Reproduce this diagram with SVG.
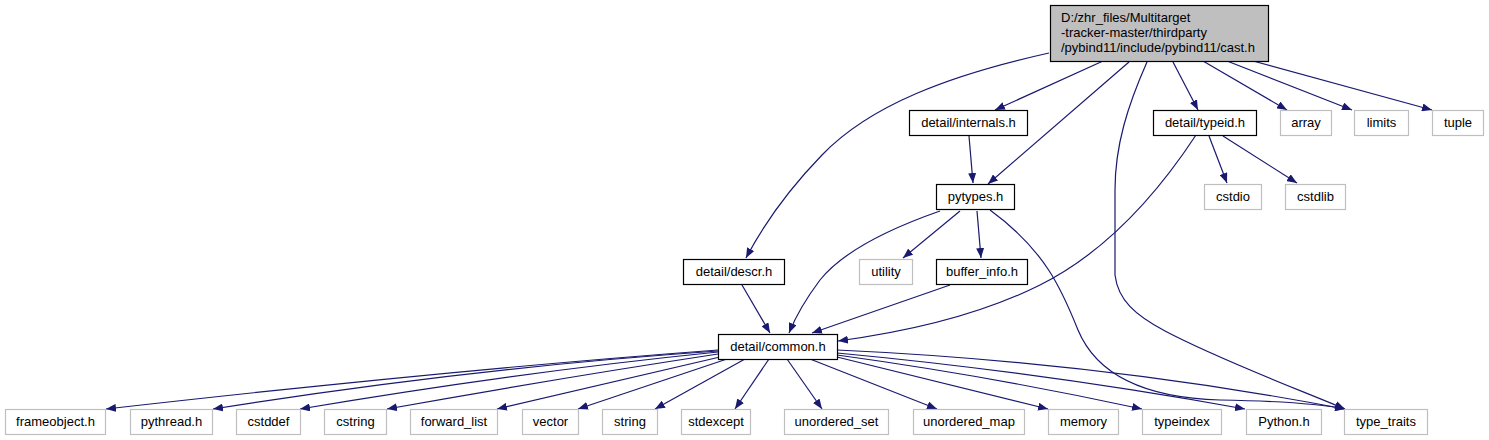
<svg xmlns="http://www.w3.org/2000/svg" width="1489" height="440" viewBox="0 0 1489 440">
<style>
  text { font-family: "Liberation Sans", Arial, sans-serif; font-size: 13px; fill: #000; }
  .c { text-anchor: middle; }
  .n { fill: #fff; stroke: #000; stroke-width: 1.2; }
  .g { fill: #fff; stroke: #bfbfbf; stroke-width: 1.2; }
  .root { fill: #bfbfbf; stroke: #000; stroke-width: 1.2; }
  .e { fill: none; stroke: #191970; stroke-width: 1.2; marker-end: url(#a); }
</style>
<defs>
  <marker id="a" markerWidth="11" markerHeight="8" refX="10" refY="4" orient="auto" markerUnits="userSpaceOnUse">
    <path d="M0,0 L10,4 L0,8 z" fill="#191970"/>
  </marker>
</defs>
<rect width="1489" height="440" fill="#fff"/>
<g id="edges">
  <path class="e" d="M1049,53 C 950,75 870,105 822,155 C 790,188 765,222 746,258"/>
  <path class="e" d="M1103,61 L995,110"/>
  <path class="e" d="M1129,62 L988,184"/>
  <path class="e" d="M1147,62 C 1128,105 1115,145 1115,190 L1115,275 C 1118,300 1135,315 1165,331 C 1220,360 1300,390 1345,409"/>
  <path class="e" d="M1173,62 L1198,110"/>
  <path class="e" d="M1203,61 L1287,110"/>
  <path class="e" d="M1227,61 L1352,110"/>
  <path class="e" d="M1253,61 L1432,110"/>
  <path class="e" d="M969,136 L973,183"/>
  <path class="e" d="M1209,136 L1227,183"/>
  <path class="e" d="M1223,136 L1297,183"/>
  <path class="e" d="M1196,135 C 1150,205 1100,255 1040,285 C 990,310 920,330 838,341"/>
  <path class="e" d="M940,211 C 880,232 840,255 820,280 C 805,300 795,318 789,333"/>
  <path class="e" d="M960,211 L903,258"/>
  <path class="e" d="M977,211 L981,258"/>
  <path class="e" d="M990,210 C 1045,250 1062,290 1078,330 C 1098,378 1150,398 1220,400 C 1280,401 1320,404 1345,409"/>
  <path class="e" d="M742,285 L770,333"/>
  <path class="e" d="M950,285 L812,333"/>
  <path class="e" d="M718,350 Q 450,370 106,409"/>
  <path class="e" d="M718,351 Q 470,368 213,409"/>
  <path class="e" d="M718,352 Q 520,372 300,409"/>
  <path class="e" d="M718,354 Q 560,378 387,409"/>
  <path class="e" d="M720,357 L497,409"/>
  <path class="e" d="M727,359 L578,409"/>
  <path class="e" d="M745,359 L655,409"/>
  <path class="e" d="M769,359 L735,409"/>
  <path class="e" d="M787,359 L822,409"/>
  <path class="e" d="M810,359 L937,409"/>
  <path class="e" d="M837,357 L1048,409"/>
  <path class="e" d="M837,355 Q 990,376 1142,409"/>
  <path class="e" d="M837,353 Q 1040,372 1245,409"/>
  <path class="e" d="M837,350 Q 1100,362 1345,409"/>
</g>
<g id="cast_h">
  <rect class="root" x="1050.5" y="5.5" width="218" height="56"/>
  <text x="1061" y="22">D:/zhr_files/Multitarget</text>
  <text x="1061" y="37">-tracker-master/thirdparty</text>
  <text x="1061" y="52">/pybind11/include/pybind11/cast.h</text>
</g>
<g id="internals_h"><rect class="n" x="909.5" y="110.5" width="118" height="25"/><text class="c" x="968.5" y="127">detail/internals.h</text></g>
<g id="typeid_h"><rect class="n" x="1153.5" y="110.5" width="103" height="25"/><text class="c" x="1205" y="127">detail/typeid.h</text></g>
<g id="array"><rect class="g" x="1280.5" y="110.5" width="51" height="25"/><text class="c" x="1306" y="127">array</text></g>
<g id="limits"><rect class="g" x="1354.5" y="110.5" width="54" height="25"/><text class="c" x="1381.5" y="127">limits</text></g>
<g id="tuple"><rect class="g" x="1432.5" y="110.5" width="51" height="25"/><text class="c" x="1458" y="127">tuple</text></g>
<g id="pytypes_h"><rect class="n" x="936.5" y="184.5" width="78" height="25"/><text class="c" x="975.5" y="201">pytypes.h</text></g>
<g id="cstdio"><rect class="g" x="1204.5" y="184.5" width="57" height="25"/><text class="c" x="1233" y="201">cstdio</text></g>
<g id="cstdlib"><rect class="g" x="1285.5" y="184.5" width="60" height="25"/><text class="c" x="1315.5" y="201">cstdlib</text></g>
<g id="descr_h"><rect class="n" x="683.5" y="259.5" width="101" height="25"/><text class="c" x="734" y="276">detail/descr.h</text></g>
<g id="utility"><rect class="g" x="859.5" y="259.5" width="53" height="25"/><text class="c" x="886" y="276">utility</text></g>
<g id="buffer_info_h"><rect class="n" x="936.5" y="259.5" width="91" height="25"/><text class="c" x="982" y="276">buffer_info.h</text></g>
<g id="common_h"><rect class="n" x="718.5" y="334.5" width="119" height="25"/><text class="c" x="778" y="351">detail/common.h</text></g>
<g id="frameobject_h"><rect class="g" x="5.5" y="409.5" width="100" height="25"/><text class="c" x="55.5" y="426">frameobject.h</text></g>
<g id="pythread_h"><rect class="g" x="130.5" y="409.5" width="82" height="25"/><text class="c" x="171.5" y="426">pythread.h</text></g>
<g id="cstddef"><rect class="g" x="236.5" y="409.5" width="64" height="25"/><text class="c" x="268.5" y="426">cstddef</text></g>
<g id="cstring"><rect class="g" x="324.5" y="409.5" width="62" height="25"/><text class="c" x="355.5" y="426">cstring</text></g>
<g id="forward_list"><rect class="g" x="410.5" y="409.5" width="87" height="25"/><text class="c" x="454" y="426">forward_list</text></g>
<g id="vector"><rect class="g" x="522.5" y="409.5" width="56" height="25"/><text class="c" x="550.5" y="426">vector</text></g>
<g id="string"><rect class="g" x="602.5" y="409.5" width="55" height="25"/><text class="c" x="630" y="426">string</text></g>
<g id="stdexcept"><rect class="g" x="681.5" y="409.5" width="69" height="25"/><text class="c" x="716" y="426">stdexcept</text></g>
<g id="unordered_set"><rect class="g" x="784.5" y="409.5" width="104" height="25"/><text class="c" x="836.5" y="426">unordered_set</text></g>
<g id="unordered_map"><rect class="g" x="913.5" y="409.5" width="111" height="25"/><text class="c" x="969" y="426">unordered_map</text></g>
<g id="memory"><rect class="g" x="1048.5" y="409.5" width="70" height="25"/><text class="c" x="1083.5" y="426">memory</text></g>
<g id="typeindex"><rect class="g" x="1142.5" y="409.5" width="79" height="25"/><text class="c" x="1182" y="426">typeindex</text></g>
<g id="Python_h"><rect class="g" x="1246.5" y="409.5" width="75" height="25"/><text class="c" x="1284" y="426">Python.h</text></g>
<g id="type_traits"><rect class="g" x="1344.5" y="409.5" width="83" height="25"/><text class="c" x="1386" y="426">type_traits</text></g>
</svg>
